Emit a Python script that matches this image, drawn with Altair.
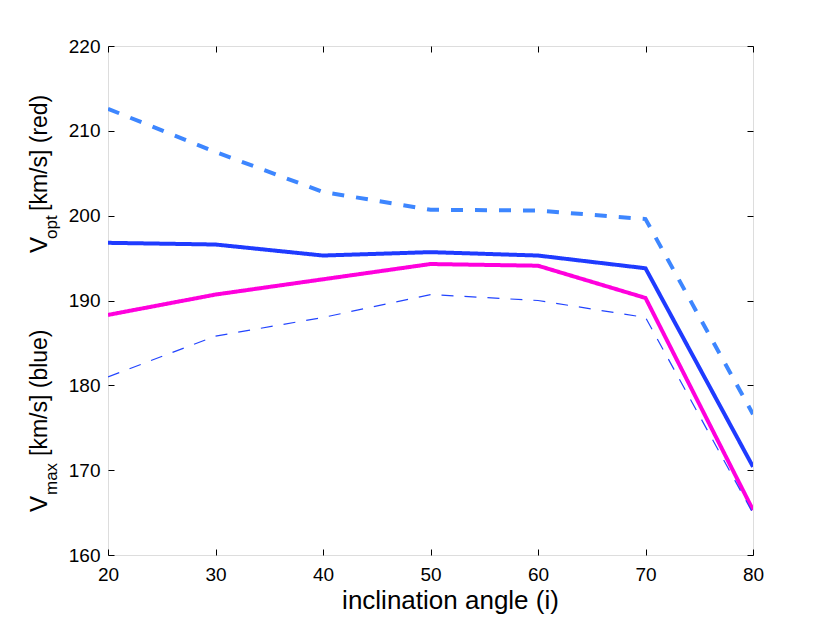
import altair as alt
import pandas as pd

# ---- data ----
angles = [20, 30, 40, 50, 60, 70, 80]
vopt_dashed = [212.6, 207.5, 202.8, 200.7, 200.6, 199.6, 176.6]   # thick dashed light blue
vmax_solid = [196.8, 196.6, 195.3, 195.7, 195.3, 193.8, 170.4]    # thick solid blue
vopt_solid = [188.3, 190.7, 192.5, 194.3, 194.1, 190.3, 165.3]    # thick solid magenta
vmax_dashed = [181.0, 185.8, 188.0, 190.7, 190.0, 188.0, 164.9]   # thin dashed blue

series_names = ["opt_dashed", "max_solid", "opt_solid", "max_dashed"]
series_vals = [vopt_dashed, vmax_solid, vopt_solid, vmax_dashed]
series_colors = ["#3D86FF", "#1F3BFF", "#FF00DD", "#2244FF"]
series_dash = [[12, 12], [1, 0], [1, 0], [12, 11]]
series_width = [4, 4, 4, 1.2]

x_ticks = [20, 30, 40, 50, 60, 70, 80]
y_ticks = [160, 170, 180, 190, 200, 210, 220]

rows = []
for name, vals in zip(series_names, series_vals):
    for a, v in zip(angles, vals):
        rows.append({"angle": a, "v": v, "series": name})
df = pd.DataFrame(rows)

FONT = "Liberation Sans"
W, H = 645, 509

xscale = alt.Scale(domain=[20, 80], nice=False, zero=False)
yscale = alt.Scale(domain=[160, 220], nice=False, zero=False)

common_axis = dict(offset=-6, domain=False, tickSize=6, tickColor="black",
                   tickWidth=1, grid=False)

base = alt.Chart(df)

# axes layer (bottom/left with labels)
axes_bl = base.mark_point(opacity=0).encode(
    x=alt.X("angle:Q", scale=xscale,
            axis=alt.Axis(values=x_ticks, orient="bottom", labelFontSize=19,
                          labelFont=FONT, labelColor="black", labelPadding=25,
                          labelBaseline="alphabetic", title="inclination angle (i)",
                          titleFont=FONT, titleFontSize=26, titleFontWeight="normal",
                          titleColor="black", titleX=342, titleY=59,
                          titleAlign="center", titleBaseline="alphabetic",
                          labelFlush=False, **common_axis)),
    y=alt.Y("v:Q", scale=yscale,
            axis=alt.Axis(values=y_ticks, orient="left", labelFontSize=19,
                          labelFont=FONT, labelColor="black", labelPadding=8,
                          labelBaseline="middle", title=None, labelFlush=False,
                          **common_axis)),
)

# axes layer (top/right, ticks only)
axes_tr = base.mark_point(opacity=0).encode(
    x=alt.X("angle:Q", scale=xscale,
            axis=alt.Axis(values=x_ticks, orient="top", labels=False, title=None, **common_axis)),
    y=alt.Y("v:Q", scale=yscale,
            axis=alt.Axis(values=y_ticks, orient="right", labels=False, title=None, **common_axis)),
)

line_layers = []
for name, col, dash, wid in zip(series_names, series_colors, series_dash, series_width):
    line_layers.append(
        base.transform_filter(alt.datum.series == name)
        .mark_line(color=col, strokeDash=dash, strokeWidth=wid,
                   strokeCap="butt", strokeJoin="miter", clip=True)
        .encode(x=alt.X("angle:Q", scale=xscale, axis=None),
                y=alt.Y("v:Q", scale=yscale, axis=None))
    )

one = alt.Data(values=[{}])

def label(txt, x, y, size):
    return alt.Chart(one).mark_text(text=txt, angle=270, align="left", baseline="alphabetic",
                                    font=FONT, fontSize=size, color="black").encode(
        x=alt.value(x), y=alt.value(y))

titles = [
    label("V", -61.5, 207, 24),
    label("opt", -51.5, 193, 17),
    label("[km/s] (red)", -61.5, 165, 23),
    label("V", -61.5, 466, 24),
    label("max", -51.5, 449, 17),
    label("[km/s] (blue)", -61.5, 410, 23),
]

chart = alt.layer(axes_bl, axes_tr, *line_layers, *titles).resolve_axis(
    x="independent", y="independent"
).properties(
    width=W, height=H,
    autosize=alt.AutoSizeParams(type="none"),
    padding={"left": 100, "top": 38, "right": 60, "bottom": 60},
).configure_view(stroke="black", strokeWidth=1).configure(background="white")

chart.save("out.html", embed_options={"renderer": "svg", "actions": False})
